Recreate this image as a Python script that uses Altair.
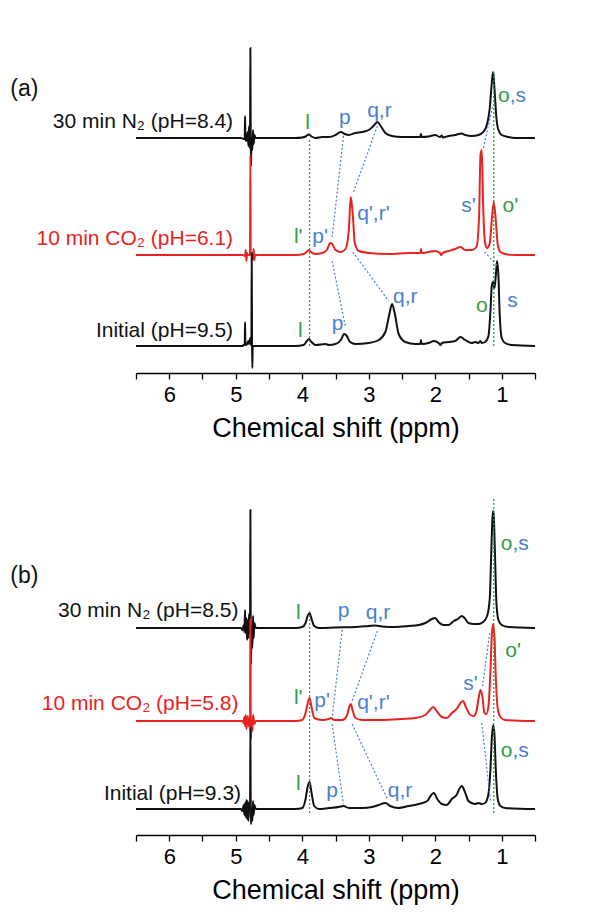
import altair as alt
import pandas as pd

BLACK = "#111111"
RED = "#e8231f"
BLUE = "#4a7fd0"
GREEN = "#2f9e40"
FONT = "Liberation Sans"

X_DOMAIN = [0.5, 6.5]
X_TICKS = [6.5, 6, 5.5, 5, 4.5, 4, 3.5, 3, 2.5, 2, 1.5, 1, 0.5]
AXIS_TITLE = "Chemical shift (ppm)"

# ---------------- Panel (a): (ppm, intensity above own baseline) ----------------
A_N2 = [(6.5, 0), (5.0, 0), (4.92, 0), (4.88, -1), (4.865, 0), (4.86, 22), (4.855, 0), (4.84, -3),
        (4.82, 6), (4.81, -8), (4.80, 12), (4.79, -10), (4.785, 0), (4.78, 90), (4.775, 0), (4.77, -28),
        (4.765, 0), (4.75, -12), (4.74, 8), (4.73, -6), (4.72, 3), (4.70, 0), (4.1, 0), (4.0, 0.5),
        (3.95, 1.5), (3.9, 3.5), (3.86, 1.5), (3.8, 0), (3.7, 1), (3.6, 1), (3.5, 3), (3.42, 6), (3.36, 4),
        (3.3, 3), (3.2, 5), (3.1, 6), (3.0, 8), (2.93, 12), (2.87, 16), (2.82, 12), (2.75, 5), (2.65, 2),
        (2.5, 1), (2.3, 1), (2.225, 1), (2.215, 4), (2.205, 1), (2.1, 1.5), (2.0, 3), (1.93, 1), (1.9, 2.5),
        (1.885, 0.5), (1.8, 2), (1.7, 3), (1.6, 4.5), (1.55, 3), (1.45, 2), (1.35, 3), (1.28, 6), (1.22, 14),
        (1.18, 30), (1.15, 55), (1.13, 66), (1.11, 50), (1.08, 20), (1.05, 8), (1.0, 3), (0.9, 1), (0.8, 0),
        (0.5, 0)]
A_CO2 = [(6.5, 0), (5.0, 0), (4.9, 0), (4.86, -1), (4.85, 5), (4.84, -6), (4.83, 2), (4.82, 0),
         (4.785, 0), (4.78, 100), (4.775, 0), (4.76, 0), (4.74, -5), (4.73, 6), (4.72, -5), (4.71, 0),
         (4.1, 0), (3.98, 1), (3.92, 4), (3.9, 5), (3.87, 3), (3.8, 1), (3.7, 2), (3.63, 5), (3.58, 12),
         (3.55, 11), (3.5, 5), (3.42, 3), (3.35, 6), (3.3, 25), (3.27, 58), (3.24, 40), (3.21, 12),
         (3.15, 4), (3.0, 2), (2.7, 1), (2.4, 2), (2.225, 2), (2.215, 6), (2.205, 2), (2.1, 3), (2.0, 4),
         (1.93, 2), (1.91, 0), (1.89, 2), (1.8, 4), (1.7, 6), (1.62, 8), (1.55, 5), (1.45, 5), (1.38, 8),
         (1.34, 40), (1.32, 100), (1.30, 105), (1.28, 50), (1.25, 12), (1.22, 7), (1.18, 12), (1.15, 35),
         (1.12, 53), (1.09, 35), (1.06, 10), (1.02, 3), (0.95, 1), (0.8, 0), (0.5, 0)]
A_INIT = [(6.5, 0), (5.0, 0), (4.9, 0), (4.88, 1), (4.865, 1), (4.86, 24), (4.855, 1), (4.83, 2),
          (4.81, 5), (4.8, 2), (4.78, 8), (4.765, 0), (4.76, 93), (4.755, 0), (4.75, -22), (4.745, 0),
          (4.72, 0), (4.1, 0), (3.98, 1), (3.93, 5), (3.9, 7), (3.86, 4), (3.8, 1), (3.65, 2), (3.6, 1),
          (3.5, 2), (3.42, 6), (3.37, 12), (3.33, 10), (3.28, 4), (3.2, 2), (3.0, 3), (2.85, 6), (2.75, 14),
          (2.69, 32), (2.65, 42), (2.61, 33), (2.55, 12), (2.45, 4), (2.3, 2), (2.225, 2), (2.215, 6),
          (2.205, 2), (2.1, 3), (2.02, 5), (1.95, 3), (1.92, 1), (1.9, 3), (1.8, 4), (1.7, 5), (1.62, 9),
          (1.55, 6), (1.45, 3), (1.4, 4), (1.35, 3), (1.32, 5), (1.3, 3), (1.25, 4), (1.2, 10), (1.17, 35),
          (1.15, 60), (1.13, 64), (1.11, 58), (1.09, 70), (1.07, 85), (1.05, 70), (1.03, 30), (1.0, 8),
          (0.95, 3), (0.85, 1), (0.5, 0)]
A_OFFSETS = [235, 118, 27]          # baselines of N2, CO2, initial traces
A_HEIGHT = 326

# dotted connectors: (ppm1, y1, ppm2, y2)
A_CONN = [(3.38, 237, 3.55, 136), (3.55, 112, 3.35, 46),
          (2.87, 247, 3.24, 179), (3.24, 121, 2.70, 72),
          (1.14, 266, 1.28, 224), (1.26, 121, 1.06, 107)]
A_GREEN = [(3.89, 27, 234), (1.12, 27, 301)]

A_LABELS = [("(a)", 8.39, 284, BLACK, 23, "left"),
            ("30 min N\u2082 (pH=8.4)", 5.04, 251, BLACK, 21, "right"),
            ("10 min CO\u2082 (pH=6.1)", 5.04, 134, RED, 21, "right"),
            ("Initial (pH=9.5)", 5.04, 42, BLACK, 21, "right"),
            ("l", 3.92, 250, GREEN, 21, "center"),
            ("p", 3.36, 255, BLUE, 21, "center"),
            ("q,r", 2.84, 262, BLUE, 21, "center"),
            ("o", 0.88, 277, GREEN, 21, "right"),
            (",s", 0.88, 277, BLUE, 21, "left"),
            ("l'", 4.06, 136, GREEN, 21, "center"),
            ("p'", 3.73, 136, BLUE, 21, "center"),
            ("q',r'", 2.93, 159, BLUE, 21, "center"),
            ("s'", 1.50, 167, BLUE, 21, "center"),
            ("o'", 0.87, 167, GREEN, 21, "center"),
            ("q,r", 2.45, 76, BLUE, 21, "center"),
            ("o", 1.30, 67, GREEN, 21, "center"),
            ("s", 0.84, 72, BLUE, 21, "center"),
            ("l", 4.03, 42, GREEN, 21, "center"),
            ("p", 3.47, 49, BLUE, 21, "center")]

# ---------------- Panel (b) ----------------
B_N2 = [(6.5, 0), (5.0, 0), (4.92, 0), (4.9, -2), (4.88, 3), (4.87, -4), (4.86, 18), (4.855, -5),
        (4.84, 10), (4.83, -12), (4.82, 8), (4.81, -10), (4.80, 14), (4.795, -6), (4.785, 0), (4.78, 118),
        (4.775, 0), (4.77, -36), (4.765, 0), (4.75, -20), (4.74, 12), (4.73, -10), (4.72, 5), (4.7, 0),
        (4.1, 0), (4.0, 1), (3.95, 5), (3.92, 12), (3.89, 15), (3.86, 9), (3.82, 2), (3.75, 0), (3.5, 0.5),
        (3.2, 1), (3.0, 2), (2.9, 2.5), (2.8, 1.5), (2.6, 1), (2.4, 2), (2.25, 3), (2.15, 5), (2.05, 9),
        (2.0, 10), (1.95, 6), (1.88, 3), (1.8, 3), (1.72, 7), (1.66, 9), (1.6, 12), (1.56, 10), (1.5, 5),
        (1.42, 4), (1.35, 4), (1.28, 6), (1.22, 12), (1.18, 30), (1.16, 70), (1.14, 110), (1.13, 117),
        (1.12, 112), (1.10, 70), (1.08, 25), (1.05, 8), (1.0, 3), (0.9, 1), (0.5, 0)]
B_CO2 = [(6.5, 0), (5.0, 0), (4.9, 0), (4.88, -2), (4.87, 4), (4.86, -5), (4.85, 6), (4.84, -8),
         (4.82, 5), (4.8, -6), (4.79, 0), (4.785, 0), (4.78, 102), (4.775, 0), (4.77, -18), (4.765, 0),
         (4.75, -10), (4.74, 6), (4.72, -3), (4.7, 0), (4.1, 0), (4.0, 1), (3.95, 8), (3.91, 20),
         (3.89, 23), (3.86, 14), (3.82, 3), (3.7, 1), (3.6, 2), (3.57, 3), (3.52, 1), (3.4, 1), (3.33, 5),
         (3.29, 15), (3.27, 17), (3.24, 10), (3.2, 3), (3.1, 1), (2.8, 1), (2.5, 2), (2.3, 3), (2.15, 6),
         (2.08, 11), (2.03, 14), (1.98, 10), (1.9, 4), (1.83, 3), (1.75, 8), (1.68, 12), (1.62, 18),
         (1.58, 20), (1.54, 14), (1.47, 6), (1.42, 5), (1.38, 10), (1.35, 22), (1.32, 31), (1.29, 24),
         (1.26, 8), (1.23, 7), (1.2, 15), (1.17, 50), (1.15, 85), (1.13, 97), (1.11, 85), (1.09, 45),
         (1.06, 12), (1.02, 4), (0.95, 1), (0.5, 0)]
B_INIT = [(6.5, 0), (5.0, 0), (4.92, 0), (4.9, -2), (4.88, 4), (4.87, -6), (4.86, 6), (4.85, -8),
          (4.84, 9), (4.83, -10), (4.82, 8), (4.81, -12), (4.80, 6), (4.795, 0), (4.785, 0), (4.78, 81),
          (4.775, 0), (4.77, -15), (4.76, 0), (4.75, -12), (4.74, 8), (4.73, -6), (4.72, 4), (4.7, 0),
          (4.1, 0), (4.0, 1), (3.95, 10), (3.92, 22), (3.89, 27), (3.86, 16), (3.82, 3), (3.75, 0),
          (3.6, 1), (3.45, 2), (3.38, 3), (3.3, 1), (3.1, 1), (2.95, 2), (2.85, 4), (2.75, 6), (2.68, 3),
          (2.55, 1), (2.4, 3), (2.25, 5), (2.12, 8), (2.06, 14), (2.02, 16), (1.97, 10), (1.9, 5),
          (1.83, 4), (1.75, 10), (1.68, 14), (1.63, 21), (1.6, 23), (1.56, 18), (1.5, 8), (1.45, 6),
          (1.4, 5), (1.35, 6), (1.3, 5), (1.25, 6), (1.2, 15), (1.17, 40), (1.15, 70), (1.13, 84),
          (1.11, 75), (1.09, 40), (1.06, 10), (1.02, 3), (0.95, 1), (0.5, 0)]
B_OFFSETS = [207, 114, 26]
B_HEIGHT = 336

B_CONN = [(3.40, 205, 3.55, 117), (3.55, 111, 3.38, 31),
          (2.87, 204, 3.25, 134), (3.25, 111, 2.72, 36),
          (1.18, 202, 1.29, 149), (1.30, 112, 1.17, 34)]
B_GREEN = [(3.89, 22, 224), (1.12, 22, 336)]

B_LABELS = [("(b)", 8.39, 259, BLACK, 23, "left"),
            ("30 min N\u2082 (pH=8.5)", 4.96, 224, BLACK, 21, "right"),
            ("10 min CO\u2082 (pH=5.8)", 4.96, 131, RED, 21, "right"),
            ("Initial (pH=9.3)", 4.92, 41, BLACK, 21, "right"),
            ("l", 4.06, 222, GREEN, 21, "center"),
            ("p", 3.38, 224, BLUE, 21, "center"),
            ("q,r", 2.86, 222, BLUE, 21, "center"),
            ("o", 0.84, 291, GREEN, 21, "right"),
            (",s", 0.84, 291, BLUE, 21, "left"),
            ("o'", 0.83, 184, GREEN, 21, "center"),
            ("l'", 4.06, 137, GREEN, 21, "center"),
            ("p'", 3.70, 134, BLUE, 21, "center"),
            ("q',r'", 2.93, 132, BLUE, 21, "center"),
            ("s'", 1.47, 151, BLUE, 21, "center"),
            ("o", 0.84, 84, GREEN, 21, "right"),
            (",s", 0.84, 84, BLUE, 21, "left"),
            ("l", 4.06, 51, GREEN, 21, "center"),
            ("p", 3.55, 44, BLUE, 21, "center"),
            ("q,r", 2.53, 44, BLUE, 21, "center")]


def x_enc(field):
    return alt.X(field, type="quantitative",
                 scale=alt.Scale(domain=X_DOMAIN, reverse=True, nice=False, zero=False),
                 axis=alt.Axis(values=X_TICKS, title=AXIS_TITLE,
                               labelExpr="datum.value % 1 == 0 ? format(datum.value, 'd') : ''",
                               labelFontSize=22, labelFont=FONT, labelColor="black",
                               labelPadding=5, labelFlush=False, labelOverlap=False,
                               tickSize=6, tickColor="black", tickWidth=1.3,
                               domainColor="black", domainWidth=1.3, grid=False,
                               titleFontSize=27, titleFont=FONT, titleFontWeight="normal",
                               titleColor="black", titlePadding=10))


def y_enc(field, h):
    return alt.Y(field, type="quantitative",
                 scale=alt.Scale(domain=[0, h], nice=False, zero=False), axis=None)


def panel(traces, offsets, colors, conns, greens, labels, h):
    layers = []
    for pts, off, col in zip(traces, offsets, colors):
        df = pd.DataFrame({"ppm": [p for p, _ in pts], "val": [v + off for _, v in pts],
                           "i": list(range(len(pts)))})
        layers.append(alt.Chart(df).mark_line(color=col, strokeWidth=2, interpolate="monotone")
                      .encode(x=x_enc("ppm"), y=y_enc("val", h), order="i:Q"))
    cdf = pd.DataFrame(conns, columns=["x1", "y1", "x2", "y2"])
    layers.append(alt.Chart(cdf).mark_rule(color=BLUE, strokeWidth=1.2, strokeDash=[2, 2])
                  .encode(x=x_enc("x1"), y=y_enc("y1", h), x2="x2", y2="y2"))
    gdf = pd.DataFrame(greens, columns=["x", "y1", "y2"])
    layers.append(alt.Chart(gdf).mark_rule(color=GREEN, strokeWidth=1.3, strokeDash=[2, 2])
                  .encode(x=x_enc("x"), y=y_enc("y1", h), y2="y2"))
    ldf = pd.DataFrame(labels, columns=["text", "ppm", "val", "color", "size", "align"])
    for al in ["left", "center", "right"]:
        sub = ldf[ldf["align"] == al]
        layers.append(alt.Chart(sub).mark_text(align=al, baseline="middle", font=FONT)
                      .encode(x=x_enc("ppm"), y=y_enc("val", h), text="text:N",
                              color=alt.Color("color:N", scale=None),
                              size=alt.Size("size:Q", scale=None)))
    return alt.layer(*layers).properties(width=399, height=h)


pa = panel([A_N2, A_CO2, A_INIT], A_OFFSETS, [BLACK, RED, BLACK], A_CONN, A_GREEN, A_LABELS, A_HEIGHT)
pb = panel([B_N2, B_CO2, B_INIT], B_OFFSETS, [BLACK, RED, BLACK], B_CONN, B_GREEN, B_LABELS, B_HEIGHT)

chart = (alt.vconcat(pa, pb, spacing=57)
         .properties(padding={"left": 2, "top": 35, "right": 5, "bottom": 5})
         .configure(font=FONT)
         .configure_view(stroke=None))

chart.save("out.html", embed_options={"renderer": "svg", "actions": False})
